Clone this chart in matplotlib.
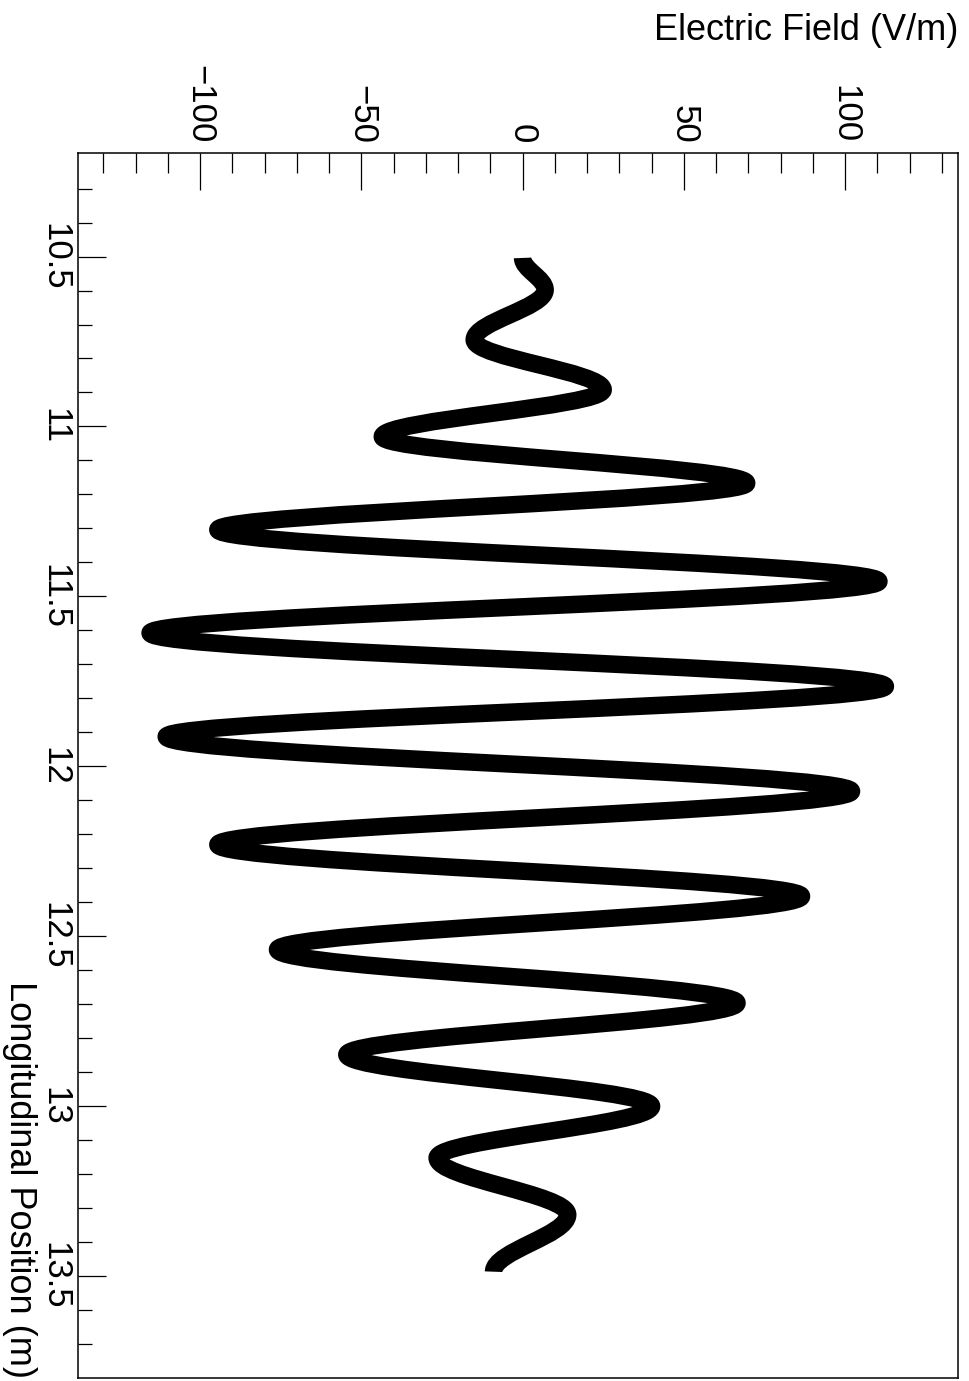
import matplotlib
matplotlib.use("Agg")
import matplotlib.pyplot as plt
from matplotlib.path import Path
from matplotlib.patches import PathPatch
from matplotlib.ticker import FixedLocator
import numpy as np

plt.rcParams['font.family'] = ['Liberation Sans', 'DejaVu Sans']

# turning points of the trace (first and last are the ends)
position = [10.504, 10.598, 10.745, 10.892, 11.030, 11.167, 11.304, 11.456,
            11.608, 11.765, 11.913, 12.074, 12.231, 12.383, 12.540, 12.697,
            12.849, 13.001, 13.153, 13.320, 13.488]          # m
field = [0.0, 7.0, -15.0, 25.0, -43.5, 69.5, -94.5, 110.5,
         -115.5, 112.5, -110.5, 102.0, -94.5, 86.5, -76.0, 66.5,
         -54.5, 40.0, -26.5, 14.0, -9.0]                      # V/m

field_ticks = [-100, -50, 0, 50, 100]
field_labels = ["\u2212100", "\u221250", "0", "50", "100"]
pos_ticks = [10.5, 11, 11.5, 12, 12.5, 13, 13.5]
pos_labels = ["10.5", "11", "11.5", "12", "12.5", "13", "13.5"]

# the plot is drawn turned a quarter turn: position runs down, field runs right
fig = plt.figure(figsize=(9.69, 13.81), dpi=100)
ax = fig.add_axes([0.0810, 0.0024, 0.9076, 0.8866])

# smooth swing between turning points: cubic segments, flat at each turn
k = 0.364
verts = [(field[0], position[0])]
codes = [Path.MOVETO]
for i in range(1, len(position)):
    dp = position[i] - position[i - 1]
    verts += [(field[i - 1], position[i - 1] + k * dp),
              (field[i], position[i] - k * dp),
              (field[i], position[i])]
    codes += [Path.CURVE4] * 3
ax.add_patch(PathPatch(Path(verts, codes), facecolor="none", edgecolor="black",
                       lw=12.6, joinstyle="round", capstyle="butt"))

ax.set_xlim(-137.7, 135.0)
ax.set_ylim(13.80, 10.196)

for s in ax.spines.values():
    s.set_linewidth(1.1)

ax.xaxis.tick_top()
ax.set_xticks(field_ticks)
ax.set_xticklabels(field_labels)
ax.xaxis.set_minor_locator(FixedLocator(np.arange(-130, 131, 10)))
ax.set_yticks(pos_ticks)
ax.set_yticklabels(pos_labels)
ax.yaxis.set_minor_locator(FixedLocator(np.arange(10.3, 13.75, 0.1)))

ax.tick_params(axis="x", which="both", direction="in", width=0.9,
               top=True, bottom=False, labeltop=True, labelbottom=False,
               labelsize=25, pad=7, labelrotation=-90)
ax.tick_params(axis="x", which="major", length=26.4)
ax.tick_params(axis="x", which="minor", length=14.4)
ax.tick_params(axis="y", which="both", direction="in", width=0.9,
               left=True, right=False, labelsize=25, pad=5, labelrotation=-90)
ax.tick_params(axis="y", which="major", length=19.9)
ax.tick_params(axis="y", which="minor", length=10)
plt.setp(ax.get_yticklabels(), va="center")

fig.text(0.9886, 1 - 30 / 1381, "Electric Field (V/m)", ha="right", va="center",
         fontsize=26)
fig.text(19 / 969, 3 / 1381, "Longitudinal Position (m)", rotation=-90,
         ha="center", va="bottom", fontsize=26)

fig.savefig("out.png", dpi=100)
